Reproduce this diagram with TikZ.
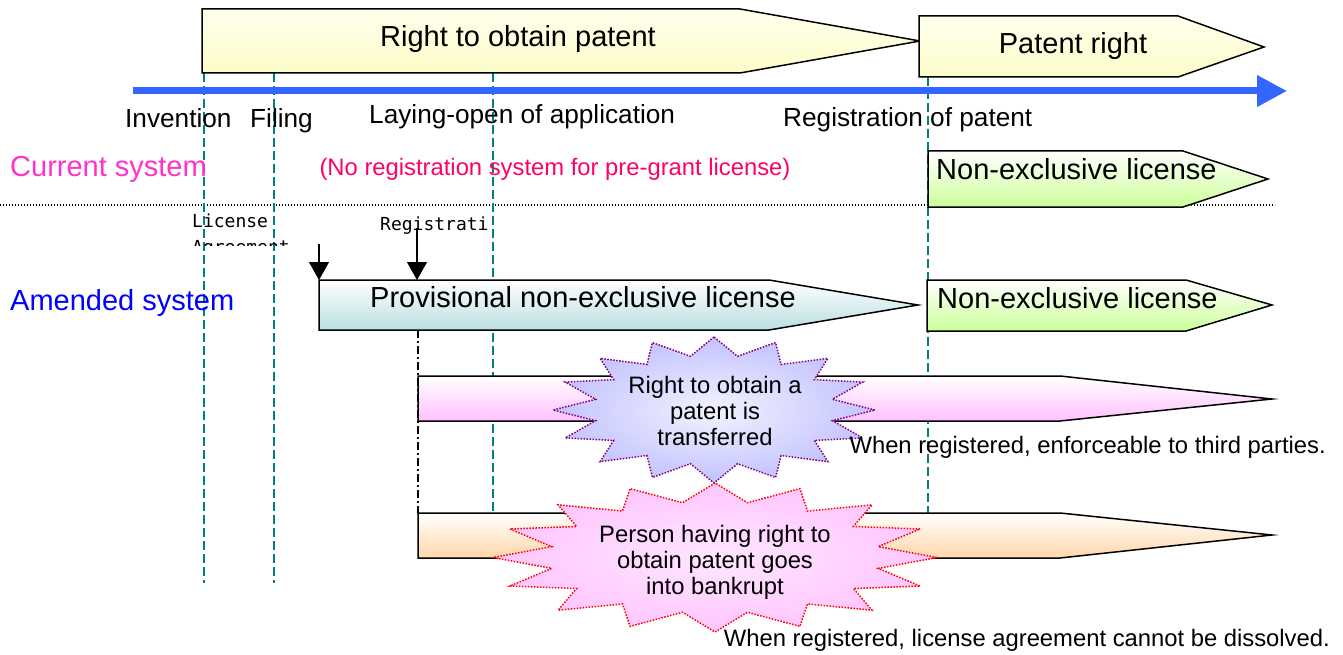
\documentclass[tikz,border=0pt]{standalone}
\usepackage{fontspec}
\setmainfont{Liberation Sans}
\newfontfamily\monofam{DejaVu Sans Mono}
\usetikzlibrary{arrows.meta}
\definecolor{tlblue}{RGB}{51,102,255}
\definecolor{tealc}{RGB}{0,128,128}
\definecolor{curpink}{RGB}{255,51,204}
\definecolor{nored}{RGB}{255,0,102}
\definecolor{amblue}{RGB}{0,0,255}
\definecolor{yeltop}{RGB}{255,255,238}
\definecolor{yelbot}{RGB}{252,252,200}
\definecolor{greenbot}{RGB}{204,255,153}
\definecolor{tealbot}{RGB}{185,222,226}
\definecolor{pinkbot}{RGB}{255,192,255}
\definecolor{orangebot}{RGB}{255,214,170}
\definecolor{starblue}{RGB}{195,195,255}
\definecolor{starbluein}{RGB}{242,242,255}
\definecolor{starpink}{RGB}{255,198,255}
\definecolor{starpinkin}{RGB}{255,230,255}
\definecolor{starpurple}{RGB}{128,0,128}
\newcommand\starburst[5]{%
  \path[#1] ({#2},{#3-#5}) \foreach \k in {0,...,15} {
    -- ({#2+0.75*#4*cos(101.25+22.5*\k)},{#3-0.75*#5*sin(101.25+22.5*\k)})
    -- ({#2+#4*cos(112.5+22.5*\k)},{#3-#5*sin(112.5+22.5*\k)}) } -- cycle;}
\tikzset{
  boxline/.style={draw=black, line width=1.5pt, line join=miter},
  yelbox/.style={boxline, top color=yeltop, bottom color=yelbot},
  grnbox/.style={boxline, top color=white, bottom color=greenbot},
  tealbox/.style={boxline, top color=white, bottom color=tealbot},
  pinkbox/.style={boxline, top color=white, bottom color=pinkbot},
  orbox/.style={boxline, top color=white, bottom color=orangebot},
  tealdash/.style={draw=tealc, line width=1.5pt, dash pattern=on 9pt off 4pt},
  dashdot/.style={draw=black, line width=1.5pt, dash pattern=on 8pt off 3pt on 2pt off 3pt},
  sepline/.style={draw=black, line width=1.2pt, dash pattern=on 1.3pt off 1.7pt},
  timeline/.style={draw=tlblue, line width=7pt, -{Triangle[width=30pt,length=30pt]}},
  downarr/.style={draw=black, line width=1.2pt, -{Triangle[width=20pt,length=18pt]}},
  starone/.style={draw=starpurple, line width=1.5pt, dash pattern=on 1.5pt off 1.5pt, inner color=starbluein, outer color=starblue},
  startwo/.style={draw=red, line width=1.5pt, dash pattern=on 1.5pt off 1.5pt, inner color=starpinkin, outer color=starpink},
  bigtxt/.style={font=\fontsize{29}{33}\selectfont, inner sep=0pt},
  lbl/.style={font=\fontsize{26.2}{30}\selectfont, inner sep=0pt},
  midtxt/.style={font=\fontsize{23.8}{27}\selectfont, inner sep=0pt},
  startxt/.style={font=\fontsize{23.8}{26}\selectfont, inner sep=0pt, anchor=base},
  monotxt/.style={font=\monofam\fontsize{18}{21}\selectfont, inner sep=0pt},
}
\begin{document}
\begin{tikzpicture}[x=1pt,y=-1pt]
\useasboundingbox (0,0) rectangle (1343,655);
% separator
\draw[sepline] (0,205) -- (1275,205);
% vertical guide lines
\draw[tealdash] (204,73) -- (204,583);
\draw[tealdash] (274,73) -- (274,583);
\draw[tealdash] (493,73) -- (493,513);
\draw[tealdash] (928,77) -- (928,513);
\draw[dashdot] (418,330) -- (418,513);
% top boxes
\path[yelbox] (202,9) -- (740,9) -- (920,41) -- (740,73) -- (202,73) -- cycle;
\path[yelbox] (919,16) -- (1178,16) -- (1264,47) -- (1178,77) -- (919,77) -- cycle;
\node[bigtxt, anchor=base] (rtop) at (518,47) {Right to obtain patent};
\node[bigtxt, anchor=base] (pr) at (1073,54) {Patent right};
% timeline
\coordinate (tl0) at (133,91);
\coordinate (tl1) at (1287,91);
\draw[timeline] (tl0) -- (tl1);
\node[lbl, anchor=base west] (inv) at (125,128) {Invention};
\node[lbl, anchor=base west] (fil) at (250,128) {Filing};
\node[lbl, anchor=base west] (lay) at (369,124) {Laying-open of application};
\node[lbl, anchor=base west] (reg) at (783,127) {Registration of patent};
% current system
\node[bigtxt, anchor=base west, text=curpink] (cur) at (10,177) {Current system};
\node[midtxt, anchor=base, text=nored] (nor) at (555,176) {(No registration system for pre-grant license)};
\path[grnbox] (928,151) -- (1183,151) -- (1268,179) -- (1183,207) -- (928,207) -- cycle;
\node[bigtxt, anchor=base west] (ne1) at (936,179) {Non-exclusive license};
% amended system
\node[monotxt, anchor=base west] (lic) at (192,227) {License};
\begin{scope}
\clip (185,236) rectangle (300,245.5);
\node[monotxt, anchor=base west] (agr) at (192,253) {Agreement};
\end{scope}
\node[monotxt, anchor=base west] (regi) at (380,230) {Registrati};
\node[bigtxt, anchor=base west, text=amblue] (ame) at (10,310) {Amended system};
\path[tealbox] (319,280) -- (769,280) -- (918,305) -- (769,330) -- (319,330) -- cycle;
\node[bigtxt, anchor=base] (prov) at (583,307) {Provisional non-exclusive license};
\path[grnbox] (927,280) -- (1186,280) -- (1272,305) -- (1186,331) -- (927,331) -- cycle;
\node[bigtxt, anchor=base west] (ne2) at (937,308) {Non-exclusive license};
\coordinate (a1top) at (319,244);
\coordinate (a1bot) at (319,280);
\coordinate (a2top) at (417,228);
\coordinate (a2bot) at (417,280);
\draw[downarr] (a1top) -- (a1bot);
\draw[downarr] (a2top) -- (a2bot);
% bars
\path[pinkbox] (418,376) -- (1060,376) -- (1272,399) -- (1060,421) -- (418,421) -- cycle;
\path[orbox] (418,513) -- (1060,513) -- (1272,535) -- (1060,558) -- (418,558) -- cycle;
% starbursts
\starburst{starone}{714}{410}{161}{73}
\starburst{startwo}{715}{557.5}{222}{74.5}
\node[startxt] (s1a) at (715,393) {Right to obtain a};
\node[startxt] (s1b) at (715,419) {patent is};
\node[startxt] (s1c) at (715,445) {transferred};
\node[startxt] (s2a) at (715,542) {Person having right to};
\node[startxt] (s2b) at (715,568) {obtain patent goes};
\node[startxt] (s2c) at (715,594) {into bankrupt};
% notes
\node[midtxt, anchor=base east] (w1) at (1326,453) {When registered, enforceable to third parties.};
\node[midtxt, anchor=base east] (w2) at (1330,646) {When registered, license agreement cannot be dissolved.};
\end{tikzpicture}
\end{document}
